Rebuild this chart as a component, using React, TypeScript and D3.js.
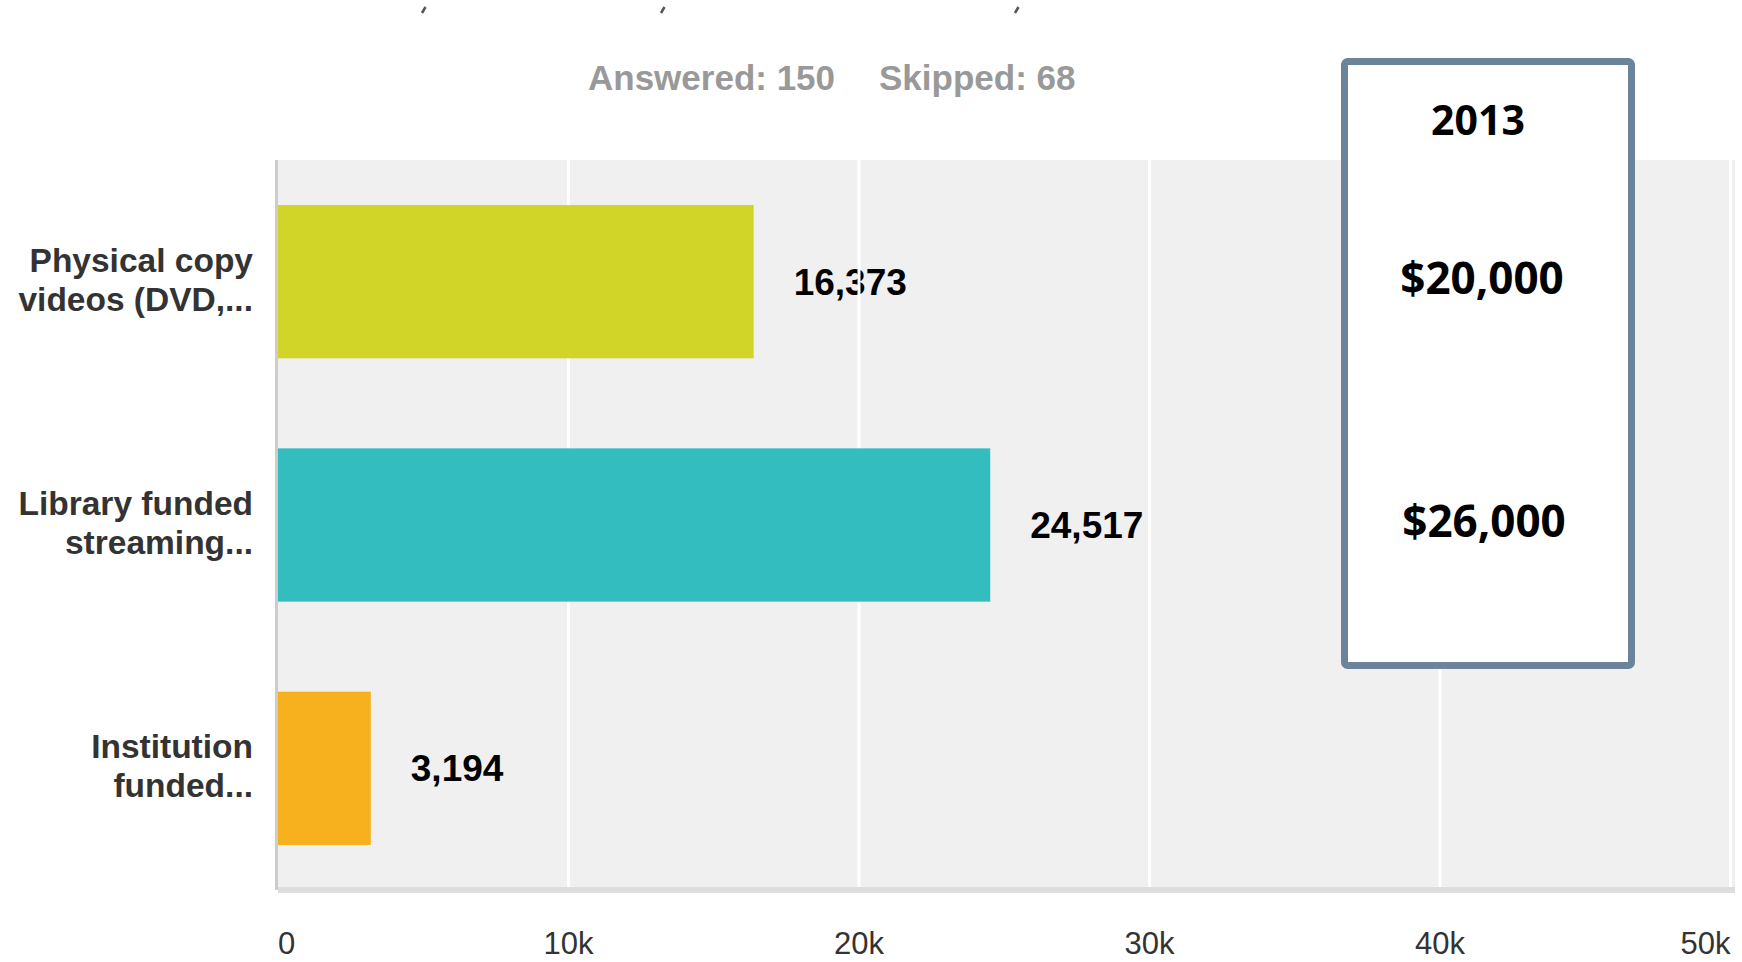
import React from 'react';
import * as d3 from 'd3';

// survey answers, values
const categories = [
  ['Physical copy', 'videos (DVD,...'],
  ['Library funded', 'streaming...'],
  ['Institution', 'funded...'],
];
const values = [16373, 24517, 3194];
const barColors = ['#d0d528', '#33bdbf', '#f7b01e'];
const xTicks = [0, 10000, 20000, 30000, 40000, 50000];
const answeredText = 'Answered: 150';
const skippedText = 'Skipped: 68';
const boxYear = '2013';
const boxAmounts = ['$20,000', '$26,000'];
const topMarks = [424, 663, 1017];

const W = 1742;
const H = 962;
const left = 278;
const right = 1735;
const top = 160;
const bottom = 890;

const App = () => {
  const x = d3.scaleLinear().domain([0, 50000]).range([left, 1730.5]);
  const y = d3
    .scaleBand<number>()
    .domain(d3.range(values.length))
    .range([top, bottom])
    .paddingInner(0.37)
    .paddingOuter(0.185);
  const fmtVal = d3.format(',');
  const fmtTick = (v: number) => (v === 0 ? '0' : v / 1000 + 'k');
  const bw = y.bandwidth();

  return (
    <div style={{ position: 'absolute', left: 0, top: 0 }}>
      <svg width={W} height={H} style={{ display: 'block', background: '#fff' }}>
        {/* leftovers of the cut off title */}
        {topMarks.map((m, i) => (
          <line key={i} x1={m - 2} y1={13} x2={m + 1.5} y2={7} stroke="#555" strokeWidth={2.5} />
        ))}

        <text x={588} y={90} fontFamily="'Liberation Sans', Arial, sans-serif" fontWeight="bold" fontSize={35} fill="#999">
          {answeredText}
        </text>
        <text x={879} y={90} fontFamily="'Liberation Sans', Arial, sans-serif" fontWeight="bold" fontSize={35} fill="#999">
          {skippedText}
        </text>

        {/* plot area */}
        <rect x={left} y={top} width={right - left} height={887 - top} fill="#f0f0f0" />

        {values.map((v, i) => (
          <text
            key={'v' + i}
            x={x(v) + 40}
            y={(y(i) as number) + bw / 2 + 13}
            fontFamily="'Liberation Sans', Arial, sans-serif"
            fontWeight="bold"
            fontSize={37}
            fill="#000"
          >
            {fmtVal(v)}
          </text>
        ))}

        {xTicks.slice(1).map((t) => (
          <line key={'g' + t} x1={x(t)} x2={x(t)} y1={top} y2={887} stroke="#fff" strokeWidth={3} />
        ))}

        {values.map((v, i) => (
          <rect key={'b' + i} x={x(0)} y={y(i)} width={x(v) - x(0)} height={bw} fill={barColors[i]} />
        ))}

        {/* axes */}
        <rect x={left} y={887} width={right - left} height={6} fill="#ddd" />
        <rect x={275} y={top} width={3} height={890 - top} fill="#ccc" />

        {xTicks.map((t, i) => (
          <text
            key={'t' + t}
            x={x(t)}
            y={954}
            textAnchor={i === 0 ? 'start' : i === xTicks.length - 1 ? 'end' : 'middle'}
            fontFamily="'Liberation Sans Narrow', 'Arial Narrow', 'Liberation Sans', sans-serif"
            fontSize={31}
            fill="#333"
          >
            {fmtTick(t)}
          </text>
        ))}

        {categories.map((lines, i) => (
          <text
            key={'c' + i}
            textAnchor="end"
            fontFamily="'Liberation Sans', Arial, sans-serif"
            fontWeight="bold"
            fontSize={33.5}
            fill="#333"
          >
            {lines.map((l, j) => (
              <tspan key={j} x={253} y={(y(i) as number) + bw / 2 - 10 + j * 39}>
                {l}
              </tspan>
            ))}
          </text>
        ))}

        {/* 2013 budget box */}
        <rect x={1344.5} y={61.5} width={287} height={604} rx={3} fill="#fff" stroke="#6b8499" strokeWidth={7} />
        <text x={1478} y={135} textAnchor="middle" fontFamily="'Open Sans', sans-serif" fontWeight={700} fontSize={41} fill="#000">
          {boxYear}
        </text>
        {boxAmounts.map((a, i) => (
          <text
            key={'a' + i}
            x={1482 + i * 2}
            y={(y(i) as number) + bw / 2 + 12}
            textAnchor="middle"
            fontFamily="'Open Sans', sans-serif"
            fontWeight={700}
            fontSize={44}
            fill="#000"
          >
            {a}
          </text>
        ))}
      </svg>
    </div>
  );
};

export default App;
